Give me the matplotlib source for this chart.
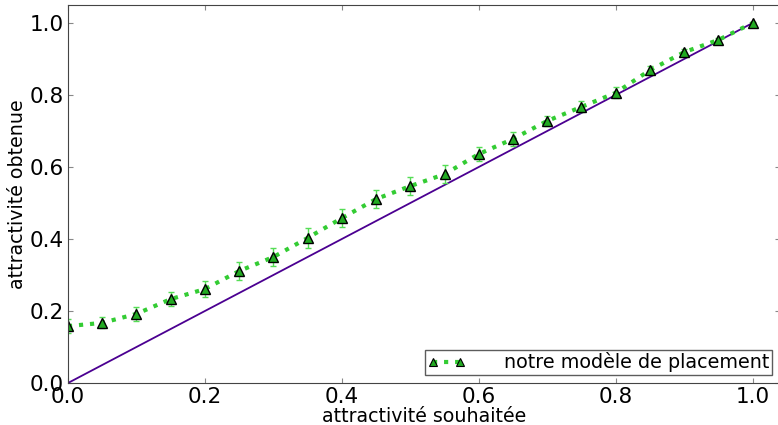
import numpy as np
import matplotlib
matplotlib.use('Agg')
import matplotlib.pyplot as plt
from matplotlib.lines import Line2D

# desired attractivity (x) vs obtained attractivity (y)
souhaitee = [0.0, 0.05, 0.1, 0.15, 0.2, 0.25, 0.3, 0.35, 0.4, 0.45, 0.5,
             0.55, 0.6, 0.65, 0.7, 0.75, 0.8, 0.85, 0.9, 0.95, 1.0]
obtenue = [0.158, 0.167, 0.192, 0.233, 0.261, 0.311, 0.350, 0.403, 0.458,
           0.511, 0.547, 0.580, 0.636, 0.678, 0.728, 0.767, 0.806, 0.869,
           0.919, 0.953, 1.0]
erreur = [0.02, 0.015, 0.02, 0.02, 0.022, 0.025, 0.025, 0.028, 0.025, 0.025,
          0.025, 0.025, 0.02, 0.02, 0.015, 0.015, 0.015, 0.012, 0.01, 0.006,
          0.002]
ideal = [0.0, 1.0]
legend_label = 'notre modèle de placement'

plt.rcParams['font.family'] = ['DejaVu Sans']
fig = plt.figure(figsize=(7.78, 4.25), dpi=100)
ax = fig.add_axes([68 / 778, 42 / 425, 712 / 778, 378 / 425])

ax.plot(ideal, ideal, color='#4b0091', linewidth=1.3)
ax.errorbar(souhaitee, obtenue, yerr=erreur, color='#33cc33', linestyle=':',
            linewidth=3, marker='^', markersize=6.5, markerfacecolor='#22aa22',
            markeredgecolor='black', markeredgewidth=1, ecolor='#55dd55',
            elinewidth=1, capsize=2)

ax.set_xlim(0, 1.04)
ax.set_ylim(0, 1.05)
ax.set_xticks([0.0, 0.2, 0.4, 0.6, 0.8, 1.0])
ax.set_yticks([0.0, 0.2, 0.4, 0.6, 0.8, 1.0])
ax.tick_params(direction='in', top=True, right=True, labelsize=15.5, pad=3,
               color='#888888')
ax.set_xlabel('attractivité souhaitée', fontsize=13.7, labelpad=0)
ax.set_ylabel('attractivité obtenue', fontsize=13.7, labelpad=2)
for s in ax.spines.values():
    s.set_color('#444444')

# legend handle: dotted line with two small markers, no error bars
handle = Line2D([], [], color='#33cc33', linestyle=':', linewidth=3,
                marker='^', markersize=5.5, markerfacecolor='#22aa22',
                markeredgecolor='black', markeredgewidth=0.8)
leg = ax.legend([handle], [legend_label], loc='lower right', fontsize=13.8,
                numpoints=2, fancybox=False, borderaxespad=0.4,
                borderpad=0.15, handlelength=2.0, handletextpad=2.0)
leg.get_frame().set_edgecolor('#333333')
leg.get_frame().set_linewidth(1.0)

fig.savefig('out.png', dpi=100)
